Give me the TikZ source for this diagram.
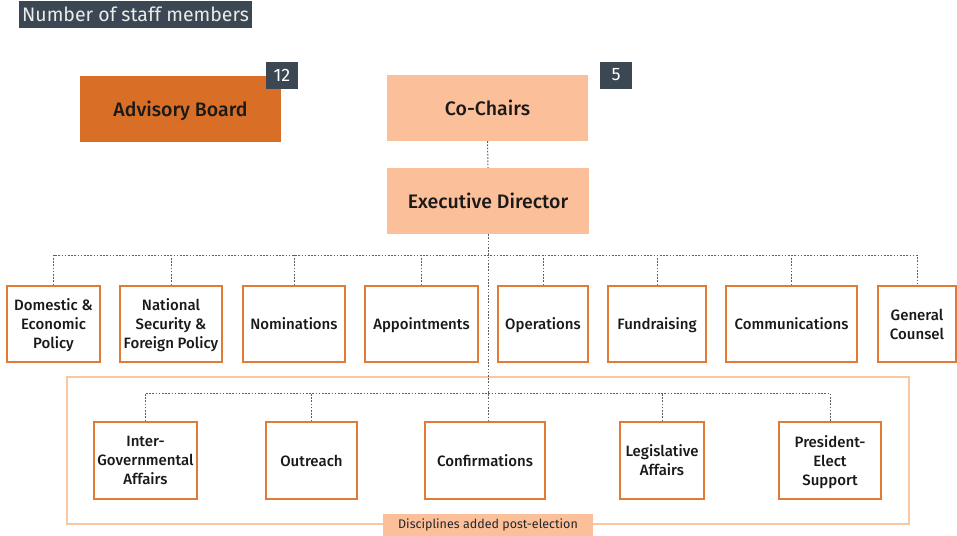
\documentclass[tikz,border=0pt]{standalone}
\usepackage{fontspec}
\setmainfont{Fira Sans}[BoldFont={Fira Sans Medium}]
\definecolor{darkbg}{HTML}{3B4753}
\definecolor{orfill}{HTML}{D96F27}
\definecolor{peach}{HTML}{FBBF99}
\definecolor{orline}{HTML}{E07A36}
\definecolor{frameline}{HTML}{FBC6A4}
\definecolor{dotgray}{HTML}{5E5E5E}
\begin{document}
\begin{tikzpicture}[x=1pt,y=-1pt,
  unit/.style={draw=orline, line width=1.5pt, fill=white, align=center, inner sep=0pt,
    font=\bfseries\fontsize{15}{19}\selectfont, text=black!90, text depth=0pt},
  topbox/.style={inner sep=0pt, align=center, font=\bfseries\fontsize{19.5}{23}\selectfont, text=black!90,
    minimum width=201pt, minimum height=66pt, text depth=0pt},
  badge/.style={fill=darkbg, text=white, inner sep=0pt, minimum width=32pt, minimum height=27pt,
    font=\fontsize{18}{21}\selectfont},
  dotline/.style={draw=dotgray, line width=1pt, dash pattern=on 1.6pt off 1.6pt}
]
\useasboundingbox (0,0) rectangle (957,535);

% legend
\node[fill=darkbg, text=white!92!black, inner sep=0pt, minimum width=233pt, minimum height=27pt,
  font=\fontsize{19.5}{22}\selectfont] (legend) at (135.5,14.5) {Number of staff members};

% top row
\node[topbox, fill=orfill] (adv) at (180.5,109) {Advisory Board};
\node[badge] (b12) at (282,75.5) {12};
\node[topbox, fill=peach] (cc) at (487.5,108) {Co-Chairs};
\node[badge] (b5) at (616,75) {5};
\node[topbox, fill=peach, minimum width=202pt] (ed) at (488,201) {Executive Director};

% post-election frame
\node[draw=frameline, line width=1.5pt, minimum width=842pt, minimum height=147pt, inner sep=0pt] (frame) at (488,450.5) {};

% first row
\node[unit, minimum width=93pt, minimum height=76pt] (dom) at (53.5,324) {Domestic \&\\Economic\\Policy};
\node[unit, minimum width=102pt, minimum height=76pt] (nat) at (171,324) {National\\Security \&\\Foreign Policy};
\node[unit, minimum width=102pt, minimum height=76pt] (nom) at (294,324) {Nominations};
\node[unit, minimum width=113pt, minimum height=76pt] (app) at (421.5,324) {Appointments};
\node[unit, minimum width=90pt, minimum height=76pt] (ops) at (543,324) {Operations};
\node[unit, minimum width=98pt, minimum height=76pt] (fund) at (657,324) {Fundraising};
\node[unit, minimum width=131pt, minimum height=76pt] (comm) at (791.5,324) {Communications};
\node[unit, minimum width=78pt, minimum height=76pt] (gc) at (917,324) {General\\Counsel};

% second row
\node[unit, minimum width=103pt, minimum height=77pt] (igov) at (145.5,460.5) {Inter-\\Governmental\\Affairs};
\node[unit, minimum width=91pt, minimum height=77pt] (out) at (311.5,460.5) {Outreach};
\node[unit, minimum width=120pt, minimum height=77pt] (conf) at (485,460.5) {Confirmations};
\node[unit, minimum width=84pt, minimum height=77pt] (leg) at (662,460.5) {Legislative\\Affairs};
\node[unit, minimum width=102pt, minimum height=77pt] (pes) at (830,460.5) {President-\\Elect\\Support};

% frame label
\node[fill=peach, inner sep=0pt, minimum width=210pt, minimum height=22pt, text=black!85,
  font=\fontsize{12.5}{14}\selectfont] (fl) at (frame.south) {Disciplines added post-election};

% connectors
\coordinate (bus1) at (488,255);
\coordinate (bus2) at (488,393);
\draw[dotline] (cc.south) -- (ed.north);
\draw[dotline] (ed.south) -- (ed.south |- conf.north);
\draw[dotline] (dom.north) -- (dom.north |- bus1) -- (gc.north |- bus1) -- (gc.north);
\foreach \n in {nat,nom,app,ops,fund,comm}
  \draw[dotline] (\n.north) -- (\n.north |- bus1);
\draw[dotline] (igov.north) -- (igov.north |- bus2) -- (pes.north |- bus2) -- (pes.north);
\foreach \n in {out,leg}
  \draw[dotline] (\n.north) -- (\n.north |- bus2);
\end{tikzpicture}
\end{document}
